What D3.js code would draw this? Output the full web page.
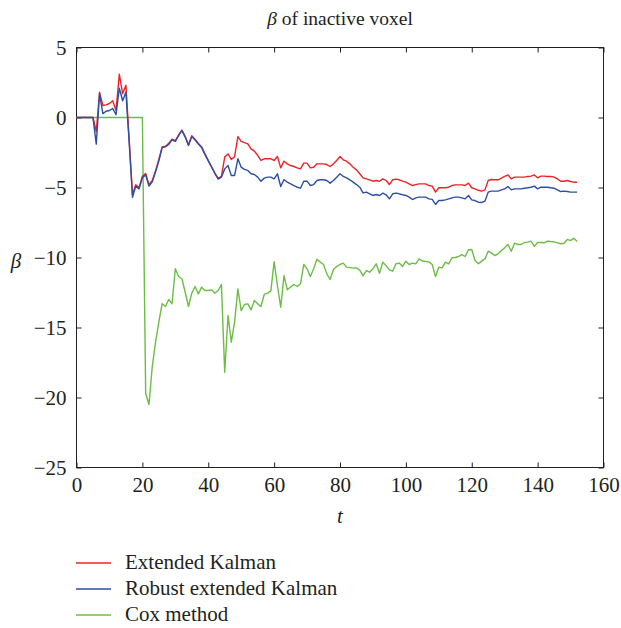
<!DOCTYPE html>
<html><head><meta charset="utf-8">
<script src="https://cdn.jsdelivr.net/npm/d3@7"></script>
<style>
body{margin:0;background:#fff;}
svg text{font-family:"Liberation Serif","Times New Roman",serif;fill:#231f20;}
</style></head><body>
<svg id="c" width="621" height="628"></svg>
<script>
const title = "β of inactive voxel";
const xLabel = "t";
const yLabel = "β";
const seriesNames = ["Extended Kalman", "Robust extended Kalman", "Cox method"];
const seriesColors = ["#ec2227", "#2c4fa3", "#6cbd45"];
const xTicks = [0,20,40,60,80,100,120,140,160];
const yTicks = [5,0,-5,-10,-15,-20,-25];

const extended = [0,0,0,0,0,0,-1.0,1.8,0.86,0.9,1.0,1.2,0.5,3.1,1.7,2.3,-1.6,-5.5,-4.8,-5.0,
-4.2,-4.0,-4.8,-4.5,-3.8,-3.0,-2.1,-2.05,-1.85,-1.55,-1.65,-1.25,-0.9,-1.35,-1.95,-1.3,-1.55,-1.85,-2.1,-2.6,
-3.05,-3.5,-3.95,-4.35,-4.2,-2.83,-2.6,-3.0,-2.8,-1.36,-1.7,-1.8,-1.88,-2.24,-2.4,-2.7,-3.07,-2.95,-2.95,-2.95,
-3.07,-2.79,-3.6,-3.12,-3.31,-3.43,-3.5,-3.6,-3.67,-3.26,-3.26,-3.6,-3.55,-3.31,-3.31,-3.31,-3.36,-3.5,-3.31,-3.07,
-2.79,-3.02,-3.12,-3.31,-3.55,-3.74,-4.02,-4.31,-4.38,-4.45,-4.55,-4.5,-4.55,-4.38,-4.5,-4.79,-4.45,-4.4,-4.45,-4.55,
-4.62,-4.74,-4.86,-4.79,-4.74,-4.74,-4.74,-4.86,-4.9,-5.33,-5.02,-5.02,-5.02,-4.98,-4.86,-4.81,-4.81,-4.81,-4.86,-4.69,
-5.02,-5.1,-5.2,-5.26,-5.17,-4.5,-4.43,-4.45,-4.45,-4.33,-4.21,-4.1,-4.38,-4.26,-4.26,-4.26,-4.26,-4.21,-4.19,-4.1,
-4.31,-4.19,-4.19,-4.21,-4.21,-4.26,-4.38,-4.55,-4.55,-4.5,-4.57,-4.62,-4.62];

const robust = [0,0,0,0,0,0,-1.9,1.7,0.28,0.45,0.5,0.64,0.2,2.1,1.2,1.8,-1.8,-5.7,-4.9,-5.1,
-4.3,-4.1,-4.9,-4.6,-3.9,-3.1,-2.15,-2.1,-1.93,-1.6,-1.7,-1.3,-0.93,-1.4,-2.0,-1.36,-1.6,-1.9,-2.15,-2.65,
-3.1,-3.55,-4.0,-4.4,-4.26,-3.67,-3.43,-4.14,-4.14,-2.95,-3.55,-3.71,-3.78,-4.02,-4.07,-4.26,-4.55,-4.33,-4.26,-4.26,
-4.38,-4.02,-4.93,-4.43,-4.62,-4.74,-4.86,-4.98,-5.05,-4.55,-4.55,-4.86,-4.79,-4.5,-4.45,-4.45,-4.5,-4.69,-4.5,-4.26,
-4.02,-4.21,-4.31,-4.45,-4.62,-4.79,-4.98,-5.38,-5.33,-5.45,-5.57,-5.5,-5.57,-5.4,-5.52,-5.81,-5.45,-5.4,-5.45,-5.52,
-5.57,-5.69,-5.86,-5.74,-5.69,-5.69,-5.69,-5.81,-5.85,-6.21,-5.93,-5.93,-5.88,-5.81,-5.74,-5.69,-5.69,-5.74,-5.81,-5.57,
-5.88,-5.93,-6.05,-6.07,-5.98,-5.33,-5.26,-5.26,-5.26,-5.17,-5.1,-4.93,-5.17,-5.1,-5.1,-5.1,-5.05,-5.02,-4.98,-4.9,
-5.1,-4.98,-4.98,-4.98,-5.02,-5.05,-5.17,-5.29,-5.26,-5.29,-5.33,-5.33,-5.33];

const cox = [0,0,0,0,0,0,0,0,0,0,0,0,0,0,0,0,0,0,0,0,
0,-19.7,-20.5,-17.8,-16.05,-14.6,-13.3,-13.5,-13.0,-13.3,-10.8,-11.36,-11.52,-12.48,-13.5,-12.55,-12.07,-12.6,-12.12,-12.36,
-12.36,-12.31,-12.55,-12.36,-11.93,-18.2,-14.14,-16.05,-14.6,-12.24,-13.8,-13.36,-13.31,-13.74,-13.07,-13.31,-13.5,-12.64,-12.55,-12.4,
-10.3,-12.0,-13.55,-11.29,-12.31,-12.1,-11.93,-12.07,-11.88,-10.5,-10.81,-11.36,-10.8,-10.12,-10.33,-10.5,-11.17,-11.57,-10.86,-10.64,
-10.5,-10.4,-10.69,-10.72,-10.76,-10.74,-10.9,-11.31,-10.93,-11.05,-10.8,-10.45,-11.12,-10.33,-10.6,-10.88,-10.98,-10.45,-10.4,-10.64,
-10.26,-10.5,-10.4,-10.45,-10.1,-10.25,-10.29,-10.31,-10.5,-11.36,-10.69,-10.74,-10.33,-10.45,-10.02,-10.0,-9.93,-9.79,-9.93,-9.45,
-9.43,-10.21,-10.45,-10.26,-10.1,-9.55,-9.69,-9.86,-9.74,-9.5,-9.31,-9.07,-9.55,-8.98,-9.07,-9.07,-8.93,-8.9,-8.83,-9.21,
-8.93,-8.93,-8.95,-8.83,-8.86,-8.88,-8.95,-9.02,-8.98,-8.71,-8.79,-8.62,-8.86];

const series = [extended, robust, cox];
const FONT = '"Liberation Serif","Times New Roman",serif';

const svg = d3.select("#c");
const L = 76.5, R = 603.5, T = 47.5, B = 467.5;
const x = d3.scaleLinear().domain([0,160]).range([L,R]);
const y = d3.scaleLinear().domain([-25,5]).range([B,T]);
const fmt = d => d < 0 ? "\u2212" + Math.abs(d) : String(d);

// box
svg.append("rect").attr("x",L).attr("y",T).attr("width",R-L).attr("height",B-T)
  .attr("fill","none").attr("stroke","#231f20").attr("stroke-width",1);

// axes with inward ticks
const gx = svg.append("g").attr("transform",`translate(0,${B})`)
  .call(d3.axisBottom(x).tickValues(xTicks).tickSize(-5).tickPadding(10).tickFormat(fmt));
const gxt = svg.append("g").attr("transform",`translate(0,${T})`)
  .call(d3.axisTop(x).tickValues(xTicks).tickSize(-5).tickFormat(""));
const gy = svg.append("g").attr("transform",`translate(${L},0)`)
  .call(d3.axisLeft(y).tickValues(yTicks).tickSize(-5).tickPadding(10).tickFormat(fmt));
const gyr = svg.append("g").attr("transform",`translate(${R},0)`)
  .call(d3.axisRight(y).tickValues(yTicks).tickSize(-5).tickFormat(""));
[gx,gxt,gy,gyr].forEach(g=>{
  g.attr("font-family",FONT);
  g.select(".domain").remove();
  g.selectAll(".tick line").attr("stroke","#231f20");
  g.selectAll("text").attr("font-size",21).attr("fill","#231f20").attr("font-family",FONT);
});

// lines
const line = d3.line().x((d,i)=>x(i)).y(d=>y(d));
const order = [2,0,1];
order.forEach(k=>{
  svg.append("path").datum(series[k]).attr("d",line)
    .attr("fill","none").attr("stroke",seriesColors[k]).attr("stroke-width",1.4)
    .attr("stroke-linejoin","round");
});

// title and labels
const tt = svg.append("text").attr("x",(L+R)/2).attr("y",25).attr("text-anchor","middle")
  .attr("font-size",19.5);
tt.append("tspan").attr("font-style","italic").text(title.slice(0,1));
tt.append("tspan").text(title.slice(1));
svg.append("text").attr("x",(L+R)/2).attr("y",523).attr("text-anchor","middle")
  .attr("font-size",21).attr("font-style","italic").text(xLabel);
svg.append("text").attr("x",16).attr("y",268).attr("text-anchor","middle")
  .attr("font-size",21).attr("font-style","italic").text(yLabel);

// legend
const lg = svg.append("g");
seriesNames.forEach((n,i)=>{
  const yy = 563 + i*26;
  lg.append("line").attr("x1",76).attr("x2",111).attr("y1",yy).attr("y2",yy)
    .attr("stroke",seriesColors[i]).attr("stroke-width",1.4);
  lg.append("text").attr("x",125).attr("y",yy+6).attr("font-size",21).text(n);
});
</script></body></html>
